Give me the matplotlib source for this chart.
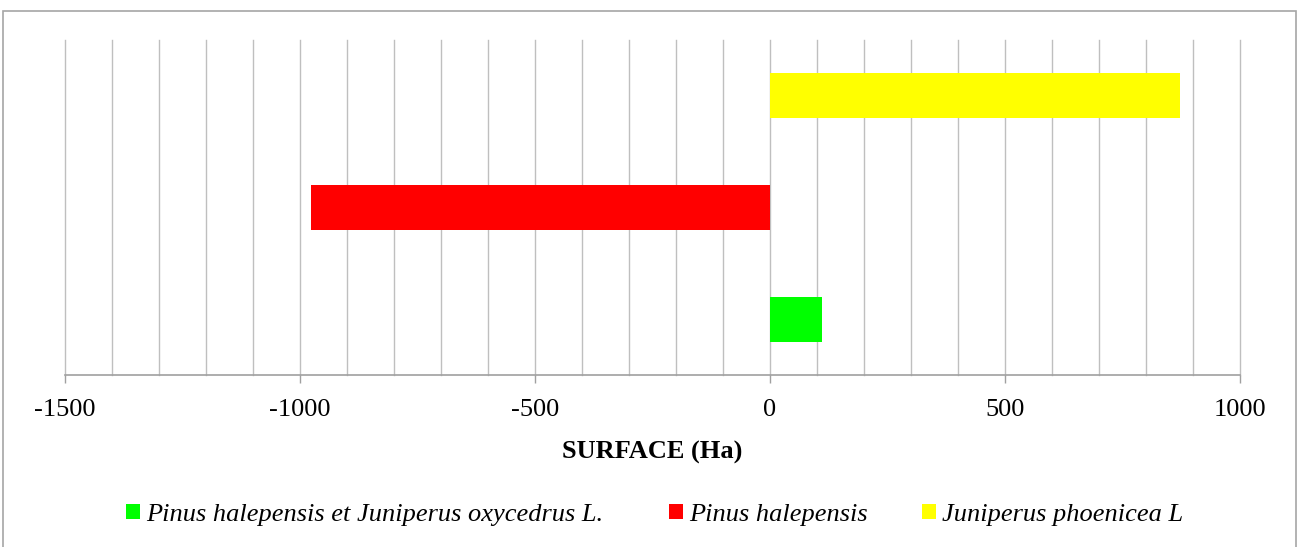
import matplotlib
matplotlib.use("Agg")
import matplotlib.pyplot as plt
from matplotlib.patches import Rectangle, Patch
import numpy as np

series = ["Pinus halepensis et Juniperus oxycedrus L.", "Pinus halepensis", "Juniperus phoenicea L"]
values = [110, -977, 872]
colors = ["#00ff00", "#ff0000", "#ffff00"]
xticks = [-1500, -1000, -500, 0, 500, 1000]
xlabel = "SURFACE (Ha)"

W, H = 1298, 547
fig = plt.figure(figsize=(W / 100, H / 100), dpi=100)
plt.rcParams['font.family'] = ['Liberation Serif', 'DejaVu Serif']

ax = fig.add_axes([65 / W, 1 - 375 / H, (1240 - 65) / W, (375 - 40) / H])
ypos = np.arange(len(series))
for i, (v, c) in enumerate(zip(values, colors)):
    ax.barh(ypos[i], v, height=0.4, color=c, zorder=3)

ax.set_xlim(-1500, 1000)
ax.set_ylim(-0.5, 2.5)
ax.set_xticks(xticks)
ax.set_xticklabels([str(t) for t in xticks], fontsize=19)
ax.set_xticks(np.arange(-1500, 1001, 100), minor=True)
ax.tick_params(axis='x', which='major', length=6, width=1, color='#a0a0a0', pad=11.5)
ax.tick_params(axis='x', which='minor', length=0)
ax.set_yticks([])
ax.grid(axis='x', which='both', color='#bfbfbf', linewidth=1, zorder=0)
for gl in ax.get_xgridlines():
    gl.set_clip_on(False)
for t in ax.xaxis.get_minor_ticks():
    t.gridline.set_clip_on(False)
for s in ['left', 'right', 'top']:
    ax.spines[s].set_visible(False)
ax.spines['bottom'].set_color('#a0a0a0')
ax.spines['bottom'].set_linewidth(1.2)
ax.spines['bottom'].set_zorder(4)
ax.set_xlabel(xlabel, fontsize=19, fontweight='bold', labelpad=14)

# outer border
fig.patches.append(Rectangle((3 / W, -0.1), (1296 - 3) / W, 1.1 - 10.5 / H,
                             transform=fig.transFigure, fill=False,
                             edgecolor='#a6a6a6', linewidth=1.2))

leg_x = [126, 669, 922]
leg_y = 1 - 515 / H
for name, c, lx in zip(series, colors, leg_x):
    fig.legend(handles=[Patch(facecolor=c, edgecolor='none')], labels=[name],
               loc='center left', bbox_to_anchor=(lx / W, leg_y),
               frameon=False, borderpad=0, borderaxespad=0,
               handlelength=0.53, handleheight=0.53, handletextpad=0.23,
               prop={'family': 'Liberation Serif', 'style': 'italic', 'size': 19})

fig.savefig("out.png", dpi=100)
